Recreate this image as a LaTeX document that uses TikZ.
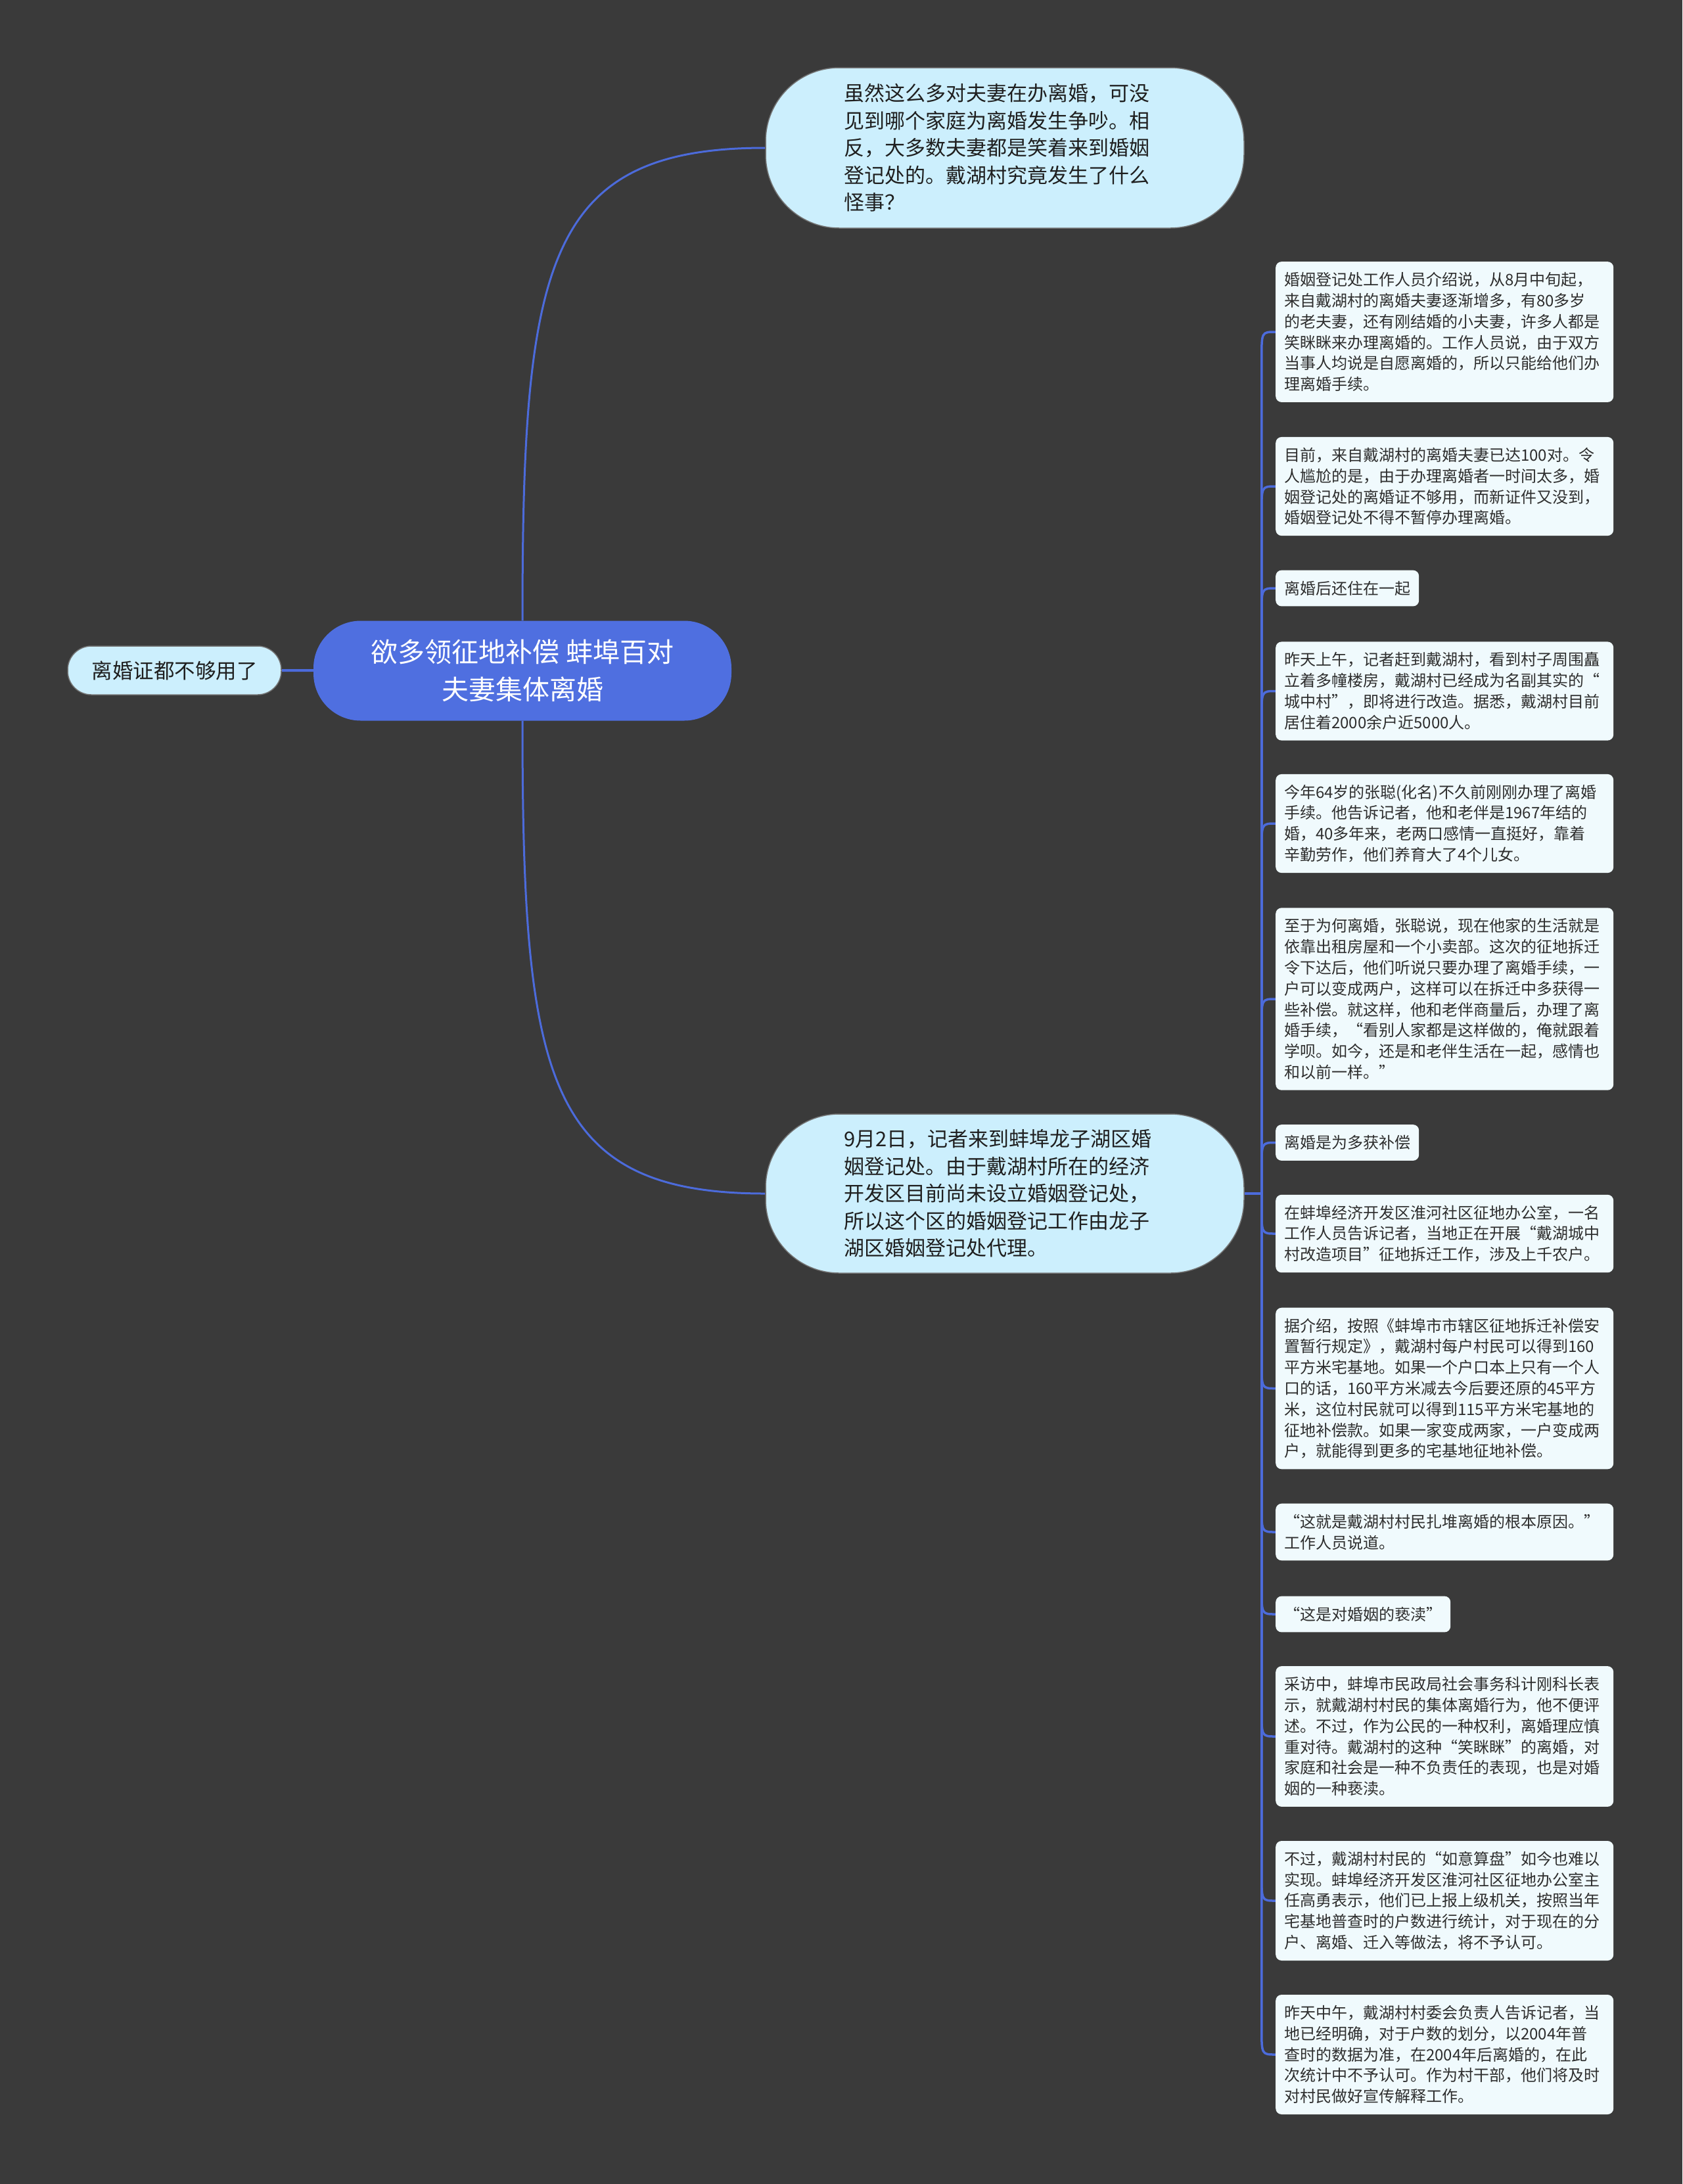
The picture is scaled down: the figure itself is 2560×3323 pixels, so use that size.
\documentclass[tikz,border=0pt]{standalone}
\usepackage{fontspec}
\newfontfamily\cjk{Noto Sans CJK SC}
\usetikzlibrary{backgrounds}
\definecolor{cBg}{HTML}{3A3A3A}
\definecolor{cRoot}{HTML}{4F6FE0}
\definecolor{cTopic}{HTML}{CCEFFD}
\definecolor{cLeaf}{HTML}{F0FAFD}
\definecolor{cLine}{HTML}{4C6BDB}
\definecolor{cInk}{HTML}{2E2E2E}
\newcommand{\rootfont}{\cjk\fontsize{41}{57}\selectfont}
\newcommand{\topicfont}{\cjk\fontsize{31}{41.5}\selectfont}
\newcommand{\leaffont}{\cjk\fontsize{24}{31.8}\selectfont}
\tikzset{
  rootbox/.style={fill=cRoot,text=white,font=\rootfont,align=center,rounded corners=72pt,minimum width=636pt,minimum height=152pt,inner sep=0pt},
  topicbox/.style={fill=cTopic,draw=black!55,line width=1.5pt,text=black!88,font=\topicfont,align=left,text width=490pt,inner xsep=119pt,inner ysep=0pt,rounded corners=112pt,minimum height=#1},
  sidebox/.style={fill=cTopic,draw=black!55,line width=1.5pt,text=black!88,font=\cjk\fontsize{31.5}{40}\selectfont,rounded corners=36pt,minimum width=325pt,minimum height=74pt,inner sep=0pt},
  leafbox/.style={fill=cLeaf,text=cInk,font=\leaffont,align=left,rounded corners=9pt,inner xsep=13pt,inner ysep=3pt,anchor=west,minimum height={#1*31.8pt+23pt}},
  fullw/.style={text width=488pt},
  conn/.style={cLine,line width=3pt},
  twig/.style={cLine,line width=3.5pt},
}
\begin{document}
\begin{tikzpicture}[x=1pt,y=-1pt]
  \useasboundingbox (0,0) rectangle (2560,3323);
  % centre and first level
  \node[rootbox] (root) at (795,1020.5) {欲多领征地补偿 蚌埠百对\\夫妻集体离婚};
  \node[sidebox] (side) at (265.5,1020) {离婚证都不够用了};
  \node[topicbox=244pt] (q1) at (1529,225) {虽然这么多对夫妻在办离婚，可没\\见到哪个家庭为离婚发生争吵。相\\反，大多数夫妻都是笑着来到婚姻\\登记处的。戴湖村究竟发生了什么\\怪事？};
  \node[topicbox=242pt] (q2) at (1529,1816) {9月2日，记者来到蚌埠龙子湖区婚\\姻登记处。由于戴湖村所在的经济\\开发区目前尚未设立婚姻登记处，\\所以这个区的婚姻登记工作由龙子\\湖区婚姻登记处代理。};
  \coordinate (hub) at ([xshift=26pt]q2.east);
  % leaves
  \node[leafbox=6,fullw] (b1) at (1941,505) {婚姻登记处工作人员介绍说，从8月中旬起，\\来自戴湖村的离婚夫妻逐渐增多，有80多岁\\的老夫妻，还有刚结婚的小夫妻，许多人都是\\笑眯眯来办理离婚的。工作人员说，由于双方\\当事人均说是自愿离婚的，所以只能给他们办\\理离婚手续。};
  \node[leafbox=4,fullw] (b2) at (1941,740) {目前，来自戴湖村的离婚夫妻已达100对。令\\人尴尬的是，由于办理离婚者一时间太多，婚\\姻登记处的离婚证不够用，而新证件又没到，\\婚姻登记处不得不暂停办理离婚。};
  \node[leafbox=1] (b3) at (1941,895) {离婚后还住在一起};
  \node[leafbox=4,fullw] (b4) at (1941,1051.5) {昨天上午，记者赶到戴湖村，看到村子周围矗\\立着多幢楼房，戴湖村已经成为名副其实的“\\城中村”，即将进行改造。据悉，戴湖村目前\\居住着2000余户近5000人。};
  \node[leafbox=4,fullw] (b5) at (1941,1253) {今年64岁的张聪(化名)不久前刚刚办理了离婚\\手续。他告诉记者，他和老伴是1967年结的\\婚，40多年来，老两口感情一直挺好，靠着\\辛勤劳作，他们养育大了4个儿女。};
  \node[leafbox=8,fullw] (b6) at (1941,1520) {至于为何离婚，张聪说，现在他家的生活就是\\依靠出租房屋和一个小卖部。这次的征地拆迁\\令下达后，他们听说只要办理了离婚手续，一\\户可以变成两户，这样可以在拆迁中多获得一\\些补偿。就这样，他和老伴商量后，办理了离\\婚手续，“看别人家都是这样做的，俺就跟着\\学呗。如今，还是和老伴生活在一起，感情也\\和以前一样。”};
  \node[leafbox=1] (b7) at (1941,1738.5) {离婚是为多获补偿};
  \node[leafbox=3,fullw] (b8) at (1941,1877) {在蚌埠经济开发区淮河社区征地办公室，一名\\工作人员告诉记者，当地正在开展“戴湖城中\\村改造项目”征地拆迁工作，涉及上千农户。};
  \node[leafbox=7,fullw] (b9) at (1941,2112.5) {据介绍，按照《蚌埠市市辖区征地拆迁补偿安\\置暂行规定》，戴湖村每户村民可以得到160\\平方米宅基地。如果一个户口本上只有一个人\\口的话，160平方米减去今后要还原的45平方\\米，这位村民就可以得到115平方米宅基地的\\征地补偿款。如果一家变成两家，一户变成两\\户，就能得到更多的宅基地征地补偿。};
  \node[leafbox=2,fullw] (b10) at (1941,2331) {“这就是戴湖村村民扎堆离婚的根本原因。”\\工作人员说道。};
  \node[leafbox=1] (b11) at (1941,2456) {“这是对婚姻的亵渎”};
  \node[leafbox=6,fullw] (b12) at (1941,2642) {采访中，蚌埠市民政局社会事务科计刚科长表\\示，就戴湖村村民的集体离婚行为，他不便评\\述。不过，作为公民的一种权利，离婚理应慎\\重对待。戴湖村的这种“笑眯眯”的离婚，对\\家庭和社会是一种不负责任的表现，也是对婚\\姻的一种亵渎。};
  \node[leafbox=5,fullw] (b13) at (1941,2892) {不过，戴湖村村民的“如意算盘”如今也难以\\实现。蚌埠经济开发区淮河社区征地办公室主\\任高勇表示，他们已上报上级机关，按照当年\\宅基地普查时的户数进行统计，对于现在的分\\户、离婚、迁入等做法，将不予认可。};
  \node[leafbox=5,fullw] (b14) at (1941,3126) {昨天中午，戴湖村村委会负责人告诉记者，当\\地已经明确，对于户数的划分，以2004年普\\查时的数据为准，在2004年后离婚的，在此\\次统计中不予认可。作为村干部，他们将及时\\对村民做好宣传解释工作。};
  % connectors behind the boxes
  \begin{scope}[on background layer]
    \fill[cBg] (0,0) rectangle (2560,3323);
    \draw[conn] (root) .. controls (795,400) and (830,225) .. (q1.west);
    \draw[conn] (root) .. controls (795,1641) and (830,1816) .. (q2.west);
    \draw[conn,line width=4pt] (side) -- (root);
    \draw[twig] (q2.east) -- (hub);
    \foreach \i/\s in {1/-40,2/-40,3/-40,4/-40,5/-40,6/-40,7/-40,8/40,9/40,10/40,11/40,12/40,13/40,14/40}{
      \draw[twig] (hub) -- ([yshift=\s pt]hub |- b\i.west) .. controls (hub |- b\i.west) .. (b\i.west);
    }
  \end{scope}
\end{tikzpicture}
\end{document}
